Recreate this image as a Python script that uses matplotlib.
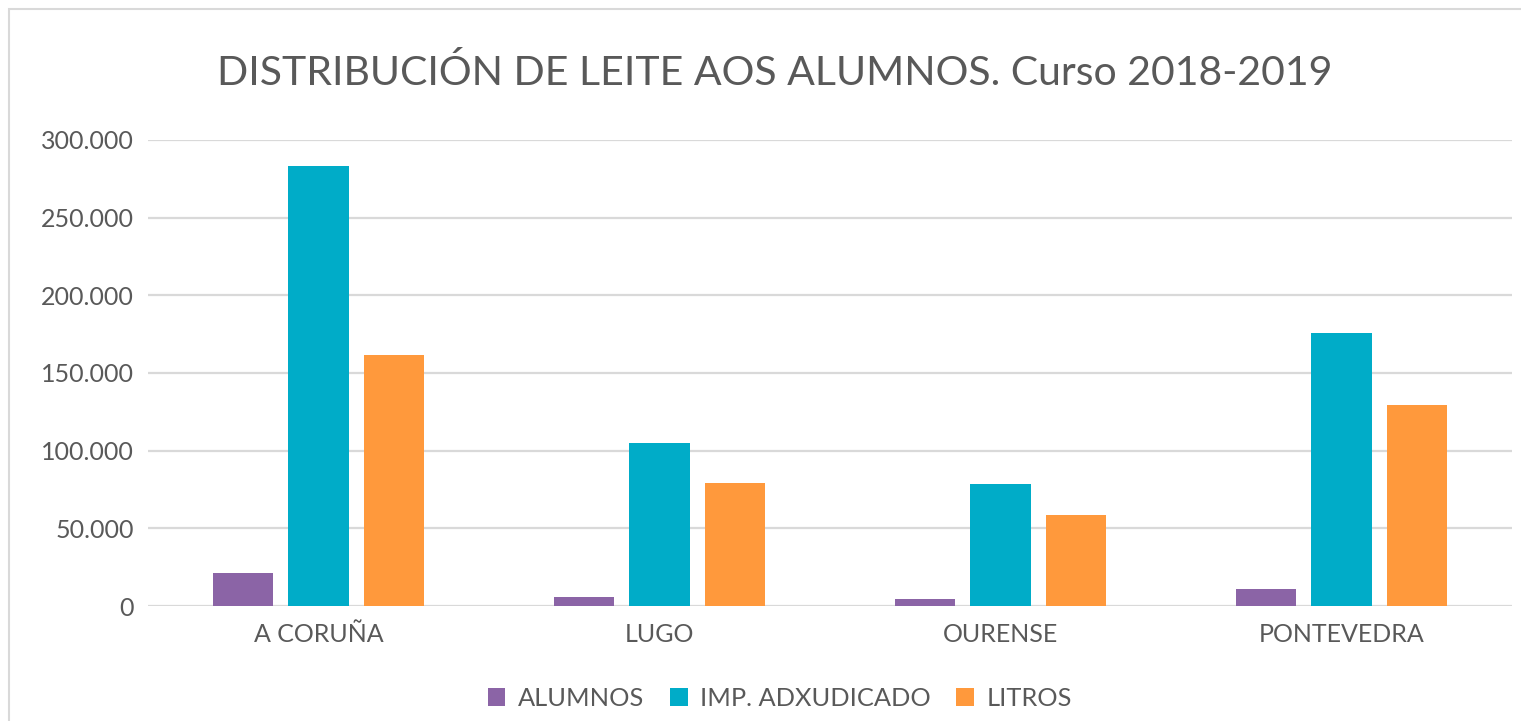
import numpy as np
import matplotlib
matplotlib.use("Agg")
import matplotlib.pyplot as plt
from matplotlib.patches import Rectangle
from matplotlib.ticker import FuncFormatter

# ---- DATA ----
provincias = ["A CORUÑA", "LUGO", "OURENSE", "PONTEVEDRA"]
alumnos = [21100, 5600, 4500, 11000]
imp_adxudicado = [283200, 105000, 78700, 175500]
litros = [161300, 79200, 58700, 129700]

series = [
    ("ALUMNOS", alumnos, "#8b64a6"),
    ("IMP. ADXUDICADO", imp_adxudicado, "#00acc8"),
    ("LITROS", litros, "#ff993c"),
]

text_color = "#595959"
plt.rcParams["font.family"] = ["Lato", "DejaVu Sans"]

W, H = 1521, 721
fig = plt.figure(figsize=(W / 100, H / 100), dpi=100)
ax = fig.add_axes([148 / W, 1 - 606 / H, (1512 - 148) / W, (606 - 140) / H])

x = np.arange(len(provincias))
width = 0.176
step = 0.222
for i, (name, vals, col) in enumerate(series):
    ax.bar(x + (i - 1) * step, vals, width, color=col, label=name, zorder=3)

ax.set_xlim(-0.5, len(provincias) - 0.5)
ax.set_ylim(0, 300000)
ax.set_yticks(np.arange(0, 300001, 50000))
ax.yaxis.set_major_formatter(FuncFormatter(lambda v, p: f"{int(v):,}".replace(",", ".")))
ax.set_xticks(x)
ax.set_xticklabels(provincias)
ax.tick_params(axis="both", length=0, labelsize=18, colors=text_color)
ax.tick_params(axis="y", pad=10)
ax.tick_params(axis="x", pad=12)
ax.grid(axis="y", color="#d9d9d9", linewidth=1.6, zorder=0)
for s in ax.spines.values():
    s.set_visible(False)

# chart border
fig.patches.append(Rectangle((9 / W, -0.1), 1.2, 1 - 9 / H + 0.1, transform=fig.transFigure,
                             fill=False, edgecolor="#d9d9d9", linewidth=1.5))

fig.text(775 / W, 1 - 73 / H, "DISTRIBUCIÓN DE LEITE AOS ALUMNOS. Curso 2018-2019",
         ha="center", va="center", fontsize=29.5, color=text_color)

fig.legend(loc="center", bbox_to_anchor=(780 / W, 1 - 698 / H), ncol=3, frameon=False,
           fontsize=18.3, labelcolor=text_color, handlelength=0.7, handleheight=0.7,
           handletextpad=0.5, columnspacing=1.0)

fig.savefig("out.png", dpi=100)
